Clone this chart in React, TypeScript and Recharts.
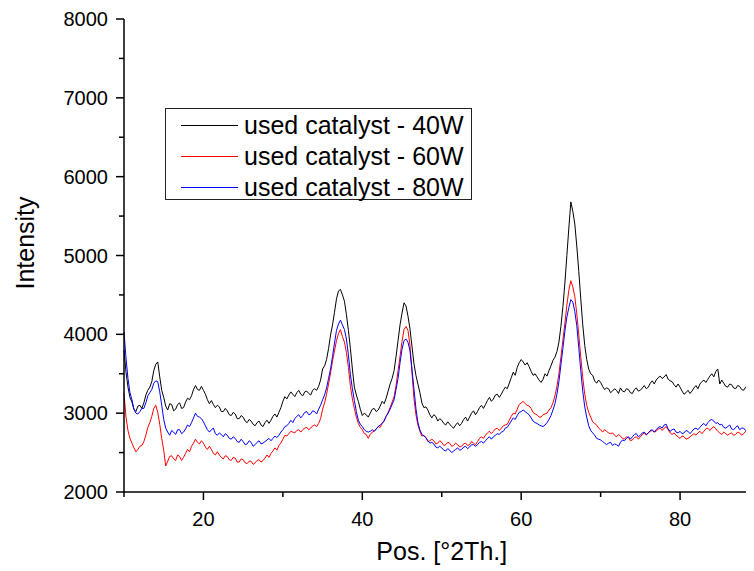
import { LineChart, Line, XAxis, YAxis, Legend } from 'recharts';

// 2theta grid of the scan, 0.25 deg per point
const angleStart = 10;
const angleStep = 0.25;

const yTicks = [2000, 2500, 3000, 3500, 4000, 4500, 5000, 5500, 6000, 6500, 7000, 7500, 8000];
const xTicks = [10, 20, 30, 40, 50, 60, 70, 80, 90];

const seriesColors = ['#000000', '#ff0000', '#0000ff'];

// one row = 5 deg
const used40W = [
  3800, 3520, 3330, 3200, 3140, 3050, 3020, 3090, 3100, 3060, 3130, 3230, 3290, 3330, 3400, 3540, 3620, 3650, 3460, 3290,
  3200, 3090, 3040, 3120, 3110, 3030, 3050, 3110, 3130, 3060, 3070, 3140, 3190, 3170, 3220, 3300, 3350, 3300, 3290, 3340,
  3290, 3240, 3170, 3120, 3160, 3110, 3070, 3100, 3080, 3020, 3020, 3060, 3030, 2980, 2970, 3010, 2990, 2930, 2930, 2970,
  2950, 2900, 2880, 2920, 2900, 2860, 2840, 2880, 2900, 2850, 2830, 2880, 2910, 2870, 2910, 2960, 2990, 2950, 3010, 3070,
  3150, 3210, 3180, 3230, 3270, 3240, 3210, 3260, 3290, 3240, 3220, 3270, 3280, 3250, 3230, 3290, 3310, 3290, 3340, 3420,
  3560, 3600, 3680, 3820, 3990, 4120, 4280, 4450, 4550, 4570, 4500, 4420, 4250, 4050, 3820, 3560, 3330, 3230, 3150, 3050,
  2970, 3000, 2980, 2950, 3000, 3050, 3060, 3020, 3040, 3090, 3150, 3120, 3190, 3280, 3370, 3440, 3540, 3720, 3920, 4120,
  4270, 4400, 4360, 4230, 4070, 3850, 3630, 3480, 3370, 3260, 3130, 3070, 3080, 3040, 2980, 2940, 2980, 2960, 2900, 2930,
  2910, 2870, 2850, 2890, 2860, 2830, 2810, 2850, 2880, 2840, 2870, 2920, 2950, 2900, 2950, 3000, 3030, 2980, 3020, 3070,
  3100, 3060, 3110, 3160, 3200, 3150, 3180, 3230, 3240, 3200, 3240, 3290, 3330, 3310, 3380, 3450, 3520, 3480, 3580, 3640,
  3680, 3650, 3610, 3640, 3590, 3530, 3480, 3500, 3460, 3420, 3390, 3430, 3500, 3470, 3540, 3600, 3670, 3710, 3780, 3900,
  4100, 4350, 4650, 5000, 5350, 5680, 5560, 5400, 5120, 4800, 4450, 4120, 3860, 3680, 3560, 3500, 3480, 3410, 3380, 3420,
  3390, 3340, 3300, 3320, 3310, 3260, 3280, 3310, 3290, 3250, 3320, 3280, 3270, 3310, 3300, 3260, 3250, 3300, 3320, 3280,
  3290, 3320, 3350, 3310, 3330, 3380, 3410, 3370, 3420, 3450, 3470, 3440, 3460, 3490, 3430, 3410, 3400, 3360, 3330, 3370,
  3330, 3280, 3240, 3260, 3290, 3250, 3280, 3320, 3350, 3310, 3370, 3400, 3420, 3390, 3430, 3470, 3500, 3460, 3530, 3560,
  3370, 3420, 3380, 3340, 3330, 3370, 3360, 3320, 3310, 3350, 3340, 3300, 3290, 3330, 3320, 3280, 3290, 3330, 3320, 3290,
  3300,
];

const used60W = [
  3250, 2950, 2780, 2680, 2620, 2560, 2510, 2540, 2580, 2590, 2640, 2720, 2820, 2880, 2960, 3060, 3100, 3010, 2860, 2680,
  2530, 2330, 2390, 2450, 2460, 2420, 2400, 2470, 2450, 2400, 2440, 2490, 2540, 2510, 2580, 2620, 2670, 2630, 2610, 2650,
  2620, 2570, 2540, 2580, 2540, 2490, 2470, 2510, 2470, 2440, 2420, 2460, 2450, 2410, 2400, 2440, 2430, 2380, 2380, 2420,
  2410, 2370, 2360, 2390, 2390, 2350, 2370, 2400, 2410, 2380, 2400, 2430, 2470, 2440, 2490, 2520, 2560, 2530, 2590, 2620,
  2670, 2720, 2710, 2740, 2770, 2760, 2750, 2780, 2790, 2760, 2790, 2810, 2820, 2790, 2810, 2840, 2850, 2830, 2870, 2930,
  3050, 3130, 3240, 3370, 3510, 3660, 3790, 3920, 4010, 4060, 3970, 3900, 3770, 3580, 3340, 3180, 3060, 2950, 2870, 2820,
  2790, 2740, 2730, 2680, 2730, 2760, 2770, 2800, 2830, 2820, 2870, 2910, 2960, 3010, 3070, 3140, 3210, 3350, 3540, 3720,
  3910, 4060, 4100, 4050, 3860, 3520, 3190, 2980, 2850, 2770, 2710, 2720, 2690, 2640, 2650, 2670, 2650, 2610, 2620, 2650,
  2630, 2590, 2600, 2630, 2620, 2580, 2590, 2620, 2600, 2570, 2580, 2610, 2620, 2590, 2600, 2640, 2620, 2600, 2640, 2680,
  2700, 2680, 2720, 2750, 2770, 2740, 2770, 2800, 2810, 2780, 2810, 2840, 2850, 2860, 2910, 2960, 3000, 2990, 3050, 3110,
  3130, 3150, 3120, 3100, 3090, 3060, 3010, 2990, 2980, 2950, 2950, 2980, 2990, 3000, 3040, 3070, 3130, 3220, 3340, 3500,
  3710, 3930, 4140, 4370, 4560, 4680, 4600, 4480, 4260, 4000, 3710, 3450, 3240, 3100, 3010, 2950, 2890, 2870, 2850, 2810,
  2790, 2760, 2790, 2770, 2750, 2740, 2750, 2720, 2700, 2730, 2710, 2680, 2670, 2700, 2690, 2650, 2660, 2690, 2700, 2670,
  2700, 2730, 2750, 2720, 2750, 2770, 2780, 2760, 2770, 2800, 2810, 2780, 2810, 2830, 2790, 2750, 2730, 2750, 2720, 2700,
  2680, 2710, 2700, 2670, 2680, 2700, 2720, 2740, 2720, 2750, 2770, 2740, 2770, 2800, 2810, 2780, 2810, 2830, 2800, 2770,
  2750, 2730, 2760, 2740, 2720, 2740, 2750, 2720, 2730, 2760, 2750, 2720, 2740, 2770, 2760, 2730, 2750, 2780, 2770, 2750,
  2760,
];

const used80W = [
  4030, 3700, 3440, 3260, 3170, 3050, 3000, 2990, 3020, 3060, 3060, 3130, 3220, 3260, 3300, 3380, 3410, 3400, 3270, 3100,
  2920, 2810, 2760, 2720, 2780, 2760, 2730, 2790, 2790, 2740, 2760, 2800, 2850, 2830, 2880, 2940, 3000, 2960, 2950, 2930,
  2890, 2840, 2790, 2760, 2790, 2810, 2740, 2720, 2750, 2730, 2700, 2740, 2720, 2680, 2670, 2700, 2680, 2640, 2630, 2670,
  2640, 2600, 2610, 2650, 2630, 2580, 2600, 2630, 2650, 2610, 2620, 2640, 2660, 2680, 2650, 2680, 2710, 2690, 2720, 2760,
  2790, 2830, 2840, 2870, 2910, 2880, 2930, 2960, 2980, 2940, 2970, 3010, 3020, 2980, 2990, 3030, 3020, 2990, 3050, 3100,
  3170, 3230, 3320, 3440, 3560, 3720, 3890, 4050, 4130, 4180, 4120, 4060, 3940, 3740, 3490, 3310, 3160, 3020, 2910, 2860,
  2830, 2790, 2770, 2760, 2770, 2790, 2770, 2800, 2830, 2850, 2870, 2900, 2960, 3000, 3050, 3110, 3170, 3300, 3440, 3640,
  3810, 3920, 3940, 3900, 3790, 3560, 3310, 3060, 2880, 2790, 2730, 2710, 2690, 2650, 2620, 2630, 2610, 2570, 2560, 2580,
  2560, 2530, 2520, 2550, 2530, 2500, 2520, 2540, 2560, 2530, 2540, 2570, 2580, 2550, 2570, 2600, 2600, 2580, 2600, 2630,
  2640, 2620, 2650, 2680, 2700, 2670, 2700, 2720, 2740, 2730, 2760, 2770, 2810, 2820, 2860, 2900, 2940, 2920, 2970, 3010,
  3020, 3040, 3020, 3000, 2980, 2940, 2900, 2880, 2870, 2850, 2840, 2830, 2850, 2880, 2920, 2970, 3040, 3120, 3240, 3400,
  3610, 3820, 4040, 4220, 4340, 4440, 4410, 4290, 4110, 3830, 3540, 3280, 3080, 2950, 2840, 2780, 2750, 2720, 2680, 2670,
  2660, 2640, 2620, 2600, 2620, 2630, 2590, 2610, 2600, 2580, 2630, 2660, 2650, 2680, 2700, 2670, 2700, 2730, 2740, 2700,
  2720, 2750, 2760, 2730, 2750, 2780, 2790, 2760, 2790, 2820, 2830, 2810, 2850, 2860, 2800, 2770, 2790, 2800, 2760, 2750,
  2770, 2740, 2750, 2780, 2770, 2740, 2770, 2800, 2810, 2790, 2820, 2850, 2870, 2840, 2880, 2910, 2920, 2900, 2870, 2880,
  2850, 2860, 2820, 2810, 2830, 2850, 2800, 2790, 2820, 2840, 2790, 2810, 2810, 2780, 2800, 2830, 2820, 2790, 2800, 2830,
  2810,
];

const data = used40W.map((v, i) => ({
  angle: angleStart + i * angleStep,
  w40: v,
  w60: used60W[i],
  w80: used80W[i],
}));

const FONT = '"Liberation Sans", Arial, sans-serif';

const YTick = (props: any) => {
  const { x, y, payload } = props;
  const major = payload.value % 1000 === 0;
  return (
    <g>
      <line x1={x - (major ? 8 : 5)} x2={x} y1={y} y2={y} stroke="#000" strokeWidth={1.5} />
      {major && (
        <text x={x - 16} y={y} dy="0.35em" textAnchor="end" fontSize={20} fontFamily={FONT} fill="#000">
          {payload.value}
        </text>
      )}
    </g>
  );
};

const XTick = (props: any) => {
  const { x, y, payload } = props;
  const major = payload.value % 20 === 0;
  return (
    <g>
      <line x1={x} x2={x} y1={y} y2={y + (major ? 8 : 5)} stroke="#000" strokeWidth={1.5} />
      {major && (
        <text x={x} y={y + 27} dy="0.35em" textAnchor="middle" fontSize={20} fontFamily={FONT} fill="#000">
          {payload.value}
        </text>
      )}
    </g>
  );
};

const LegendBox = ({ payload }: any) => (
  <div
    style={{
      width: 307,
      height: 92,
      boxSizing: 'border-box',
      border: '1px solid #222',
      background: '#fff',
      fontFamily: FONT,
      fontSize: 25,
      paddingTop: 1,
    }}
  >
    {(payload || []).map((p: any, i: number) => (
      <div key={p.value} style={{ display: 'flex', alignItems: 'center', height: 31 }}>
        <svg width={78} height={31}>
          <line x1={15} x2={72} y1={15.5} y2={15.5} stroke={seriesColors[i]} strokeWidth={1.2} />
        </svg>
        <span style={{ lineHeight: '31px', color: '#000' }}>{p.value}</span>
      </div>
    ))}
  </div>
);

export default function App() {
  return (
    <div style={{ width: 746, height: 563, overflow: 'hidden', position: 'relative' }}>
      <LineChart
        width={760}
        height={563}
        data={data}
        margin={{ top: 11, right: 8.5, left: 0, bottom: 0 }}
      >
        <XAxis
          dataKey="angle"
          type="number"
          domain={[10, 90]}
          ticks={xTicks}
          interval={0}
          height={79}
          tickSize={0}
          tickMargin={0}
          tick={<XTick />}
          axisLine={{ stroke: '#000', strokeWidth: 1.5 }}
          label={({ viewBox }: any) => (
            <text
              x={viewBox.x + viewBox.width / 2}
              y={viewBox.y + 59}
              dy="0.35em"
              textAnchor="middle"
              fontSize={25}
              fontFamily={FONT}
              fill="#000"
            >
              Pos. [°2Th.]
            </text>
          )}
        />
        <YAxis
          type="number"
          domain={[2000, 8000]}
          ticks={yTicks}
          interval={0}
          width={116}
          tickSize={0}
          tickMargin={0}
          tick={<YTick />}
          allowDataOverflow
          axisLine={{ stroke: '#000', strokeWidth: 1.5 }}
          label={({ viewBox }: any) => (
            <text
              x={17}
              y={viewBox.y + 224}
              dy="0.35em"
              textAnchor="middle"
              fontSize={25}
              fontFamily={FONT}
              fill="#000"
              transform={`rotate(-90, 17, ${viewBox.y + 224})`}
            >
              Intensity
            </text>
          )}
        />
        <Legend
          layout="horizontal"
          verticalAlign="middle"
          align="center"
          content={<LegendBox />}
          wrapperStyle={{ left: 157, top: 100, width: 307, height: 92 }}
        />
        <Line type="linear" dataKey="w40" name="used catalyst - 40W" stroke={seriesColors[0]} strokeWidth={1} dot={false} isAnimationActive={false} />
        <Line type="linear" dataKey="w60" name="used catalyst - 60W" stroke={seriesColors[1]} strokeWidth={1} dot={false} isAnimationActive={false} />
        <Line type="linear" dataKey="w80" name="used catalyst - 80W" stroke={seriesColors[2]} strokeWidth={1} dot={false} isAnimationActive={false} />
      </LineChart>
    </div>
  );
}
